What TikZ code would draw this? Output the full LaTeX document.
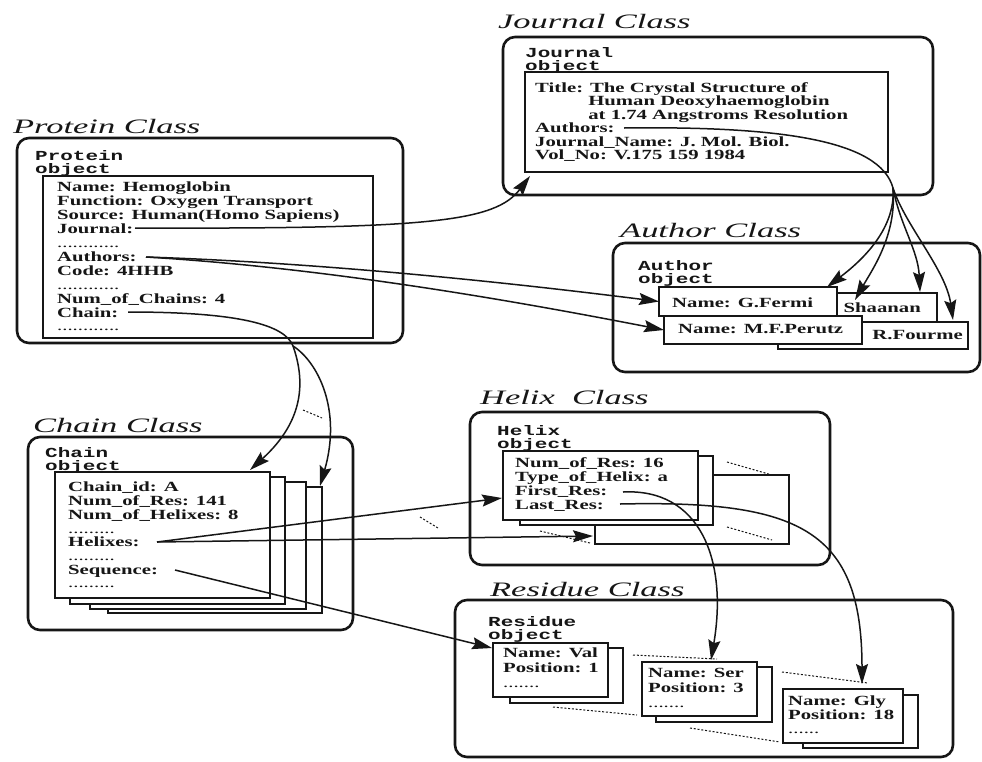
\documentclass[tikz,border=0pt]{standalone}
\usepackage{fontspec}
\setmainfont{Liberation Serif}
\newfontfamily\fieldfont[FakeStretch=1.48]{Liberation Serif}
\newfontfamily\classfont[FakeStretch=1.68]{Liberation Serif}
\newfontfamily\objfont[FakeStretch=1.52]{Liberation Mono}
\usetikzlibrary{arrows.meta}
\definecolor{ink}{HTML}{161616}
\tikzset{
  classbox/.style={draw=ink, line width=2.6pt, rounded corners=12pt},
  objbox/.style={draw=ink, line width=1.2pt, fill=white},
  objnode/.style={objbox, anchor=north west, inner sep=0pt, outer sep=0pt},
  classtitle/.style={font=\classfont\itshape\fontsize{20.5}{24}\selectfont, text=ink, anchor=base west, inner sep=0pt},
  objlabel/.style={font=\objfont\bfseries\fontsize{13.8}{13}\selectfont, text=ink, align=left, anchor=north west, inner sep=0pt},
  fields/.style={font=\fieldfont\bfseries\fontsize{14}{14}\selectfont, text=ink, align=left, anchor=north west, inner sep=0pt},
  oneline/.style={font=\fieldfont\bfseries\fontsize{14}{14}\selectfont, text=ink, inner sep=0pt},
  link/.style={draw=ink, line width=1.5pt, -{Stealth[length=20pt, width=12pt, inset=3pt]}},
  plain/.style={draw=ink, line width=1.5pt},
  more/.style={draw=ink, line width=1pt, dash pattern=on 2pt off 1.8pt},
}
\newcommand{\dotline}[1]{{\mdseries #1}}
\begin{document}
\begin{tikzpicture}[x=1pt, y=-1pt]
\useasboundingbox (0,0) rectangle (982,761);
\fill[white] (0,0) rectangle (982,761);

% ---------------- Journal class ----------------
\node[classtitle] (jtitle) at (498,28) {Journal Class};
\draw[classbox] (503,37) rectangle (933,195);
\node[objlabel] (jobj) at (525,47.6) {Journal\\object};
\node[objnode, minimum width=363pt, minimum height=100pt] (jbox) at (525,72) {};
\node[fields, font=\fieldfont\bfseries\fontsize{14}{13.5}\selectfont] (jtext) at (535,82)
  {Title: The Crystal Structure of\\
   \hphantom{Title:\ }Human Deoxyhaemoglobin\\
   \hphantom{Title:\ }at 1.74 Angstroms Resolution\\
   Authors:\\
   Journal\_Name: J. Mol. Biol.\\
   Vol\_No: V.175 159 1984};

% ---------------- Protein class ----------------
\node[classtitle] (ptitle) at (13,133) {Protein Class};
\draw[classbox] (17,138) rectangle (403,343);
\node[objlabel] (pobj) at (35,150.6) {Protein\\object};
\node[objnode, minimum width=330pt, minimum height=162pt] (pbox) at (43,176) {};
\node[fields, font=\fieldfont\bfseries\fontsize{14}{13.9}\selectfont] (ptext) at (57,182)
  {Name: Hemoglobin\\
   Function: Oxygen Transport\\
   Source: Human(Homo Sapiens)\\
   Journal:\\
   \dotline{............}\\
   Authors:\\
   Code: 4HHB\\
   \dotline{............}\\
   Num\_of\_Chains: 4\\
   Chain:\\
   \dotline{............}};

% ---------------- Author class ----------------
% the two rear author objects are mostly hidden behind the front ones
\node[classtitle] (atitle) at (620,237) {Author Class};
\draw[classbox] (613,243) rectangle (980,372);
\node[objlabel] (aobj) at (638,260.6) {Author\\object};
\node[objnode, minimum width=194pt, minimum height=29pt] (shaanan) at (743,293) {};
\node[oneline, anchor=base east] (shaanantext) at (921,312.6) {Shaanan};
\node[objnode, minimum width=190pt, minimum height=27pt] (fourme) at (778,322) {};
\node[oneline, anchor=base east] (fourmetext) at (963,339.6) {R.Fourme};
\node[objnode, minimum width=178pt, minimum height=29pt] (fermi) at (659,287) {};
\node[oneline, anchor=base west] (fermitext) at (672,307.6) {Name: G.Fermi};
\node[objnode, minimum width=198pt, minimum height=28pt] (perutz) at (664,316) {};
\node[oneline, anchor=base west] (perutztext) at (678,333.6) {Name: M.F.Perutz};

% ---------------- Chain class ----------------
\node[classtitle] (ctitle) at (33,432) {Chain Class};
\draw[classbox] (28,437) rectangle (353,630);
\node[objlabel] (cobj) at (45,447.6) {Chain\\object};
\draw[objbox] (108,487) rectangle (322,613);
\draw[objbox] (90,482) rectangle (306,609);
\draw[objbox] (70,477) rectangle (285,604);
\node[objnode, minimum width=215pt, minimum height=126pt] (cbox) at (55,472) {};
\node[fields, font=\fieldfont\bfseries\fontsize{14}{13.7}\selectfont] (ctext) at (68,482)
  {Chain\_id: A\\
   Num\_of\_Res: 141\\
   Num\_of\_Helixes: 8\\
   \dotline{.........}\\
   Helixes:\\
   \dotline{.........}\\
   Sequence:\\
   \dotline{.........}};

% ---------------- Helix class ----------------
\node[classtitle] (htitle) at (480,404) {Helix~~Class};
\draw[classbox] (470,412) rectangle (830,565);
\node[objlabel] (hobj) at (497,425.6) {Helix\\object};
\node[objnode, minimum width=194pt, minimum height=69pt] (hfar) at (595,475) {};
\draw[objbox] (520,456) rectangle (713,525);
\node[objnode, minimum width=195pt, minimum height=69pt] (hbox) at (503,451) {};
\node[fields] (htext) at (515,457)
  {Num\_of\_Res: 16\\
   Type\_of\_Helix: a\\
   First\_Res:\\
   Last\_Res:};
\draw[more] (727,462) -- (772,475);
\draw[more] (727,527) -- (772,540);
\draw[more] (540,531) -- (590,543);

% ---------------- Residue class ----------------
\node[classtitle] (rtitle) at (490,596) {Residue Class};
\draw[classbox] (455,600) rectangle (953,757);
\node[objlabel] (robj) at (488,616.6) {Residue\\object};
\draw[objbox] (510,648) rectangle (623,703);
\node[objnode, minimum width=115pt, minimum height=54pt] (val) at (493,643) {};
\node[fields, font=\fieldfont\bfseries\fontsize{14}{15}\selectfont] (valtext) at (503,648)
  {Name: Val\\ Position: 1\\ \dotline{.......}};
\draw[objbox] (656,667) rectangle (772,722);
\node[objnode, minimum width=115pt, minimum height=54pt] (ser) at (642,662) {};
\node[fields, font=\fieldfont\bfseries\fontsize{14}{15}\selectfont] (sertext) at (648,668)
  {Name: Ser\\ Position: 3\\ \dotline{.......}};
\draw[objbox] (803,695) rectangle (918,748);
\node[objnode, minimum width=120pt, minimum height=54pt] (gly) at (783,689) {};
\node[fields] (glytext) at (788,696)
  {Name: Gly\\ Position: 18\\ \dotline{......}};
\draw[more] (633,655) -- (717,659);
\draw[more] (553,707) -- (637,715);
\draw[more] (782,672) -- (868,683);
\draw[more] (690,728) -- (780,742);

% ---------------- connector end points ----------------
\coordinate (pJournal) at (135,228);
\coordinate (pAuthors) at (146,257);
\coordinate (pChain) at (128,312);
\coordinate (jAuthors) at (624,128);
\coordinate (jFork) at (893,188);
\coordinate (cFork) at (293,346);
\coordinate (cHelixes) at (157,542);
\coordinate (cSequence) at (175,570);
\coordinate (hFirst) at (623,492);
\coordinate (hLast) at (620,504);
\coordinate (jTip) at (530,176);
\coordinate (cTipA) at (250,470);
\coordinate (cTipB) at (320,486);
\coordinate (hTipA) at (502,498);
\coordinate (hTipB) at (593,536);
\coordinate (aTipA) at (827,287);
\coordinate (aTipB) at (855,300);
\coordinate (aTipC) at (920,292);
\coordinate (aTipD) at (953,320);
\coordinate (rTipA) at (492,648);
\coordinate (rTipB) at (711,660);
\coordinate (rTipC) at (862,684);

% ---------------- references between objects ----------------
\draw[link] (pJournal) .. controls (430,229) and (495,222) .. (jTip);
\draw[link] (pAuthors) .. controls (330,263) and (520,284) .. (fermi.west);
\draw[link] (pAuthors) .. controls (330,268) and (520,302) .. (perutz.west);

\draw[plain] (jAuthors) .. controls (780,126) and (880,140) .. (jFork);
\draw[link] (jFork) .. controls (896,230) and (860,262) .. (aTipA);
\draw[link] (jFork) .. controls (897,235) and (872,270) .. (aTipB);
\draw[link] (jFork) .. controls (900,225) and (918,250) .. (aTipC);
\draw[link] (jFork) .. controls (905,225) and (946,270) .. (aTipD);

\draw[plain] (pChain) .. controls (240,312) and (285,325) .. (cFork);
\draw[link] (cFork) .. controls (305,380) and (305,420) .. (cTipA);
\draw[link] (cFork) .. controls (318,362) and (342,410) .. (cTipB);
\draw[more] (303,410) -- (322,418);

\draw[link] (cHelixes) -- (hTipA);
\draw[link] (cHelixes) -- (hTipB);
\draw[more] (420,517) -- (438,528);
\draw[link] (cSequence) -- (rTipA);

\draw[link] (hFirst) .. controls (700,488) and (728,560) .. (rTipB);
\draw[link] (hLast) .. controls (800,500) and (862,530) .. (rTipC);
\end{tikzpicture}
\end{document}
